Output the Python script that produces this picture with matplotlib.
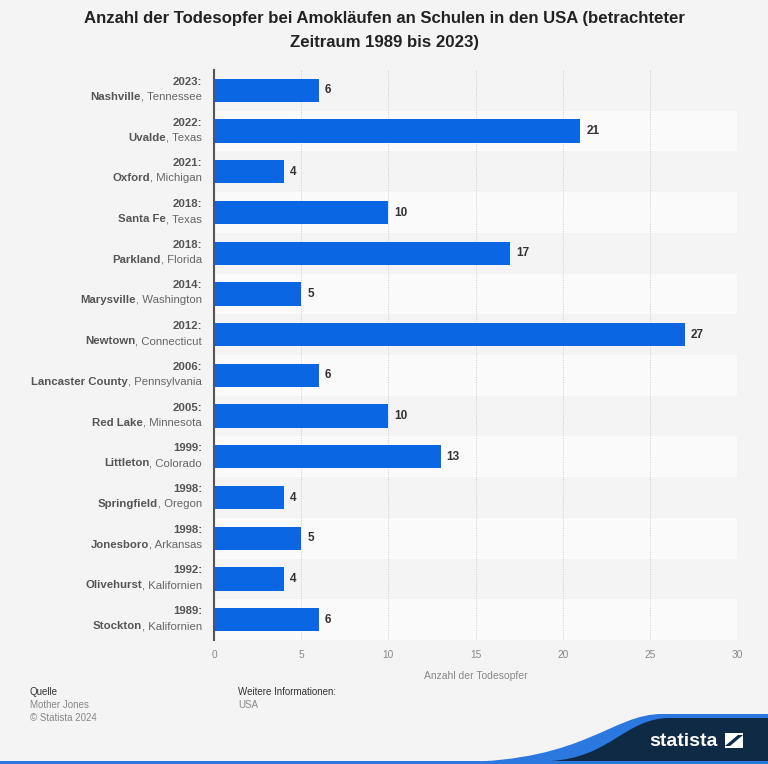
import matplotlib.pyplot as plt
from matplotlib.path import Path
from matplotlib.patches import PathPatch, Rectangle, Polygon
from matplotlib.transforms import offset_copy

years = ["2023", "2022", "2021", "2018", "2018", "2014", "2012",
         "2006", "2005", "1999", "1998", "1998", "1992", "1989"]
cities = ["Nashville", "Uvalde", "Oxford", "Santa Fe", "Parkland", "Marysville",
          "Newtown", "Lancaster County", "Red Lake", "Littleton", "Springfield",
          "Jonesboro", "Olivehurst", "Stockton"]
states = ["Tennessee", "Texas", "Michigan", "Texas", "Florida", "Washington",
          "Connecticut", "Pennsylvania", "Minnesota", "Colorado", "Oregon",
          "Arkansas", "Kalifornien", "Kalifornien"]
deaths = [6, 21, 4, 10, 17, 5, 27, 6, 10, 13, 4, 5, 4, 6]
xticks = [0, 5, 10, 15, 20, 25, 30]

font = "Liberation Sans"
bg = "#f4f4f4"
bar_col = "#0b66e4"

fig = plt.figure(figsize=(7.68, 7.64), dpi=100, facecolor=bg)
W, H = 768, 764

# overlay for decorations in pixel coords
deco = fig.add_axes([0, 0, 1, 1], zorder=0)
deco.set_xlim(0, W)
deco.set_ylim(H, 0)
deco.axis("off")

ax = fig.add_axes([214 / W, 1 - 640 / H, (737 - 214) / W, (640 - 70) / H], zorder=1)
ax.set_facecolor(bg)
n = len(deaths)
ypos = list(range(n))
ax.set_ylim(n - 0.5, -0.5)
ax.set_xlim(0, 30)

# alternating row bands
for i in ypos:
    ax.axhspan(i - 0.5, i + 0.5, color=bg if i % 2 == 0 else "#fafafa", zorder=0, lw=0)

ax.barh(ypos, deaths, height=0.57, color=bar_col, zorder=3)
for y, v in zip(ypos, deaths):
    ax.text(v + 0.35, y, str(v), va="center", ha="left", fontsize=8.5,
            fontweight="bold", color="#333333", family=font, zorder=4)

ax.set_xticks(xticks)
ax.set_xticklabels([str(t) for t in xticks], fontsize=7.3, color="#888888", family=font)
ax.tick_params(axis="x", length=0, pad=7)
ax.set_yticks([])
ax.grid(axis="x", color="#cccccc", linestyle=(0, (1, 1.5)), linewidth=0.7, zorder=1)
for s in ["top", "right", "bottom"]:
    ax.spines[s].set_visible(False)
ax.spines["left"].set_color("#555555")
ax.spines["left"].set_linewidth(1.5)
ax.spines["left"].set_zorder(5)
ax.set_xlabel("Anzahl der Todesopfer", fontsize=7.5, color="#888888", family=font, labelpad=8)

# two-line category labels with mixed weights
renderer = fig.canvas.get_renderer()
fs = 8.2
for y, yr, c, st in zip(ypos, years, cities, states):
    tr_year = offset_copy(ax.transData, fig=fig, x=-12, y=8.5, units="dots")
    ax.text(0, y, yr + ":", transform=tr_year, ha="right", va="center",
            fontsize=fs, fontweight="bold", color="#555555", family=font)
    tr_name = offset_copy(ax.transData, fig=fig, x=-12, y=-6.5, units="dots")
    t = ax.text(0, y, ", " + st, transform=tr_name, ha="right", va="center",
                fontsize=fs, color="#666666", family=font)
    w = t.get_window_extent(renderer).width
    tr_city = offset_copy(ax.transData, fig=fig, x=-12 - w, y=-6.5, units="dots")
    ax.text(0, y, c, transform=tr_city, ha="right", va="center",
            fontsize=fs, fontweight="bold", color="#555555", family=font)

# title
fig.text(0.5, 1 - 18 / H, "Anzahl der Todesopfer bei Amokläufen an Schulen in den USA (betrachteter",
         ha="center", va="center", fontsize=12.1, fontweight="bold", color="#222222", family=font)
fig.text(0.5, 1 - 42 / H, "Zeitraum 1989 bis 2023)",
         ha="center", va="center", fontsize=12.1, fontweight="bold", color="#222222", family=font)

# footer
deco.text(30, 692, "Quelle", fontsize=7, color="#333333", family=font, va="center")
deco.text(30, 705, "Mother Jones", fontsize=7, color="#888888", family=font, va="center")
deco.text(30, 718, "© Statista 2024", fontsize=7, color="#888888", family=font, va="center")
deco.text(238, 692, "Weitere Informationen:", fontsize=7, color="#333333", family=font, va="center")
deco.text(238, 705, "USA", fontsize=7, color="#888888", family=font, va="center")

# logo
navy = "#0f2a44"
blue = "#2a78e0"
band = Path([(460, 762), (585, 761), (612, 714), (662, 714), (W, 714), (W, H), (460, H), (460, 762)],
            [Path.MOVETO, Path.CURVE4, Path.CURVE4, Path.CURVE4, Path.LINETO, Path.LINETO,
             Path.LINETO, Path.CLOSEPOLY])
deco.add_patch(PathPatch(band, facecolor=blue, edgecolor="none"))
dark = Path([(550, 761), (610, 758), (625, 718), (670, 718), (W, 718), (W, 761), (550, 761), (550, 761)],
            [Path.MOVETO, Path.CURVE4, Path.CURVE4, Path.CURVE4, Path.LINETO, Path.LINETO,
             Path.LINETO, Path.CLOSEPOLY])
deco.add_patch(PathPatch(dark, facecolor=navy, edgecolor="none"))
deco.add_patch(Rectangle((0, 761), W, 3, facecolor=blue, edgecolor="none"))
deco.text(683, 741, "statista", ha="center", va="center", fontsize=14, fontweight="bold",
          color="white", family=font)
deco.add_patch(Rectangle((725, 733), 18, 15, facecolor="white", edgecolor="none"))
deco.add_patch(Polygon([(725, 746), (738, 735), (743, 735), (730, 746)], closed=True,
                       facecolor=navy, edgecolor="none"))

fig.savefig("out.png", dpi=100, facecolor=bg)
